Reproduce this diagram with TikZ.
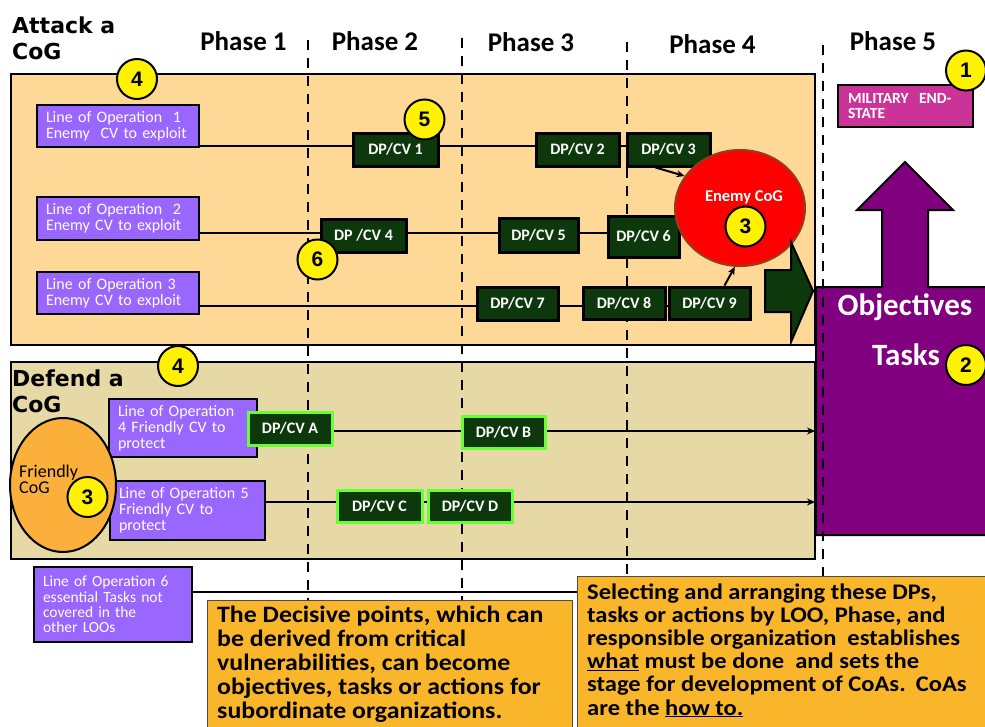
\documentclass[tikz,border=0pt]{standalone}
\usepackage{fontspec}
\setmainfont{Carlito}
\newfontfamily\widefont{Carlito}[FakeStretch=1.1]
\newfontfamily\dvs{DejaVu Sans}
\newfontfamily\libs{Liberation Sans}
\usetikzlibrary{shapes.geometric,arrows.meta}

\pgfdeclarelayer{back}
\pgfdeclarelayer{lines}
\pgfdeclarelayer{front}
\pgfsetlayers{back,lines,main,front}

\newcommand\fsz[2]{\fontsize{#1}{#2}\selectfont}

\definecolor{attackfill}{RGB}{253,216,150}
\definecolor{defendfill}{RGB}{231,217,165}
\definecolor{loofill}{RGB}{153,102,255}
\definecolor{dpfill}{RGB}{12,56,12}
\definecolor{dpedge}{RGB}{102,255,51}
\definecolor{objfill}{RGB}{128,0,128}
\definecolor{endfill}{RGB}{204,51,153}
\definecolor{notefill}{RGB}{250,182,42}
\definecolor{friendfill}{RGB}{251,176,59}
\definecolor{cogedge}{RGB}{150,60,30}

\tikzset{
  panel/.style={draw=black, line width=2pt},
  loo/.style={draw=black, line width=2pt, fill=loofill, text=white,
    font=\fsz{16}{16}, align=left, inner xsep=9pt, inner ysep=0pt},
  dp/.style={draw=black, line width=3pt, fill=dpfill, text=white,
    font=\bfseries\fsz{16}{16}, inner sep=0pt},
  dpf/.style={dp, draw=dpedge},
  badge/.style={circle, draw=black, line width=2pt, fill=yellow,
    minimum size=40pt, inner sep=0pt, font=\libs\bfseries\fsz{21}{21}},
  phase/.style={anchor=base, inner sep=0pt, font=\bfseries\fsz{27}{27}},
  title/.style={anchor=north west, align=left, inner sep=0pt,
    font=\dvs\bfseries\fsz{22}{26}},
  notebox/.style={anchor=north west, draw=black!70, line width=1pt,
    fill=notefill, inner sep=0pt},
  notetext/.style={anchor=base west, align=left, inner sep=0pt},
  link/.style={line width=2pt},
  arr/.style={link, -{Stealth[length=8pt,width=7pt]}},
  phaseline/.style={line width=2.5pt, dash pattern=on 10pt off 8pt},
}

\begin{document}
\begin{tikzpicture}[x=1pt,y=-1pt]
\useasboundingbox (0,0) rectangle (985,726);

% ---- panels and the objectives block ----
\begin{pgfonlayer}{back}
  \draw[panel, fill=attackfill] (11,74) rectangle (815,345);
  \draw[panel, fill=defendfill] (11,362) rectangle (815,559);
  \draw[panel, fill=objfill] (816,287) -- (882,287) -- (882,210) -- (857,210)
    -- (905,162) -- (953,210) -- (928,210) -- (928,287) -- (995,287)
    -- (995,535) -- (816,535) -- cycle;
\end{pgfonlayer}

% ---- headings ----
\node[title] (attack) at (12,17) {Attack a\\CoG};
\node[title] (defend) at (12,370) {Defend a\\CoG};
\node[phase] (ph1) at (243.5,50) {Phase 1};
\node[phase] (ph2) at (375,50) {Phase 2};
\node[phase] (ph3) at (531,51) {Phase 3};
\node[phase] (ph4) at (712.5,53) {Phase 4};
\node[phase] (ph5) at (893,50) {Phase 5};

% ---- phase boundaries ----
\begin{pgfonlayer}{lines}
  \draw[phaseline] (308,40) -- (308,726);
  \draw[phaseline] (462,38) -- (462,726);
  \draw[phaseline] (627,42) -- (627,726);
  \draw[phaseline] (823,45) -- (823,726);
\end{pgfonlayer}

% ---- lines of operation ----
\node[loo, text width=144pt, minimum height=42pt] (loo1) at (118,126)
  {Line of Operation\ \ 1\\Enemy\ \ CV to exploit};
\node[loo, text width=144pt, minimum height=43pt] (loo2) at (118,218.5)
  {Line of Operation\ \ 2\\Enemy CV to exploit};
\node[loo, text width=144pt, minimum height=42pt] (loo3) at (118,293)
  {Line of Operation 3\\Enemy CV to exploit};
\node[loo, text width=130pt, minimum height=58pt] (loo4) at (183,428)
  {Line of Operation\\4 Friendly CV to\\protect};
\node[loo, text width=137pt, minimum height=59pt] (loo5) at (187.5,510.5)
  {Line of Operation 5\\Friendly CV to\\protect};
\node[loo, text width=140pt, minimum height=75pt, font=\fsz{15.5}{15.3}] (loo6) at (113,604.5)
  {Line of Operation 6\\essential Tasks not\\covered in the\\other LOOs};

% ---- decisive points ----
\node[dp, minimum width=85pt, minimum height=33pt] (dp1) at (395.5,149.5) {DP/CV 1};
\node[dp, minimum width=83pt, minimum height=33pt] (dp2) at (577.5,149.5) {DP/CV 2};
\node[dp, minimum width=83pt, minimum height=33pt] (dp3) at (668.5,149.5) {DP/CV 3};
\node[dp, minimum width=85pt, minimum height=33pt] (dp4) at (363.5,235.5) {DP /CV 4};
\node[dp, minimum width=79pt, minimum height=34pt] (dp5) at (538.5,235) {DP/CV 5};
\node[dp, minimum width=71pt, minimum height=41pt] (dp6) at (643.5,236.5) {DP/CV 6};
\node[dp, minimum width=81pt, minimum height=33pt] (dp7) at (517.5,303.5) {DP/CV 7};
\node[dp, minimum width=82pt, minimum height=32pt] (dp8) at (624,303) {DP/CV 8};
\node[dp, minimum width=81pt, minimum height=32pt] (dp9) at (709.5,303) {DP/CV 9};
\node[dpf, minimum width=84pt, minimum height=33pt] (dpa) at (290,428.5) {DP/CV A};
\node[dpf, minimum width=83pt, minimum height=32pt] (dpb) at (503.5,432) {DP/CV B};
\node[dpf, minimum width=85pt, minimum height=32pt] (dpc) at (379.5,506) {DP/CV C};
\node[dpf, minimum width=84pt, minimum height=32pt] (dpd) at (470,506) {DP/CV D};

% ---- centres of gravity ----
\node[ellipse, fill=red, draw=cogedge, line width=2pt, minimum width=130pt,
  minimum height=116pt] (enemy) at (740,208) {};
\node[text=white, font=\bfseries\fsz{16.5}{16}, inner sep=0pt] (enemytxt) at (744,197) {Enemy CoG};
\node[ellipse, fill=friendfill, draw=black, line width=2pt, minimum width=106pt,
  minimum height=134pt] (friend) at (63,485) {};
\node[anchor=base west, align=left, inner sep=0pt, font=\fsz{18}{16}] (friendtxt)
  at (19,493) {Friendly\\CoG};

% ---- thrust into the objectives ----
\draw[line width=2pt, fill=dpfill] (765,270) -- (791,270) -- (791,242) -- (813,291)
  -- (791,342) -- (791,312) -- (765,312) -- cycle;

% ---- end state and objectives ----
\node[draw=black, line width=2pt, fill=endfill, text=white,
  font=\bfseries\fsz{15.5}{15}, align=left, text width=115pt, inner xsep=10pt,
  inner ysep=0pt, minimum height=42pt] (endstate) at (905.5,106) {MILITARY\ \ END-\\STATE};
\node[anchor=base, text=white, font=\bfseries\fsz{31}{31}, inner sep=0pt] (objtxt)
  at (905,315) {Objectives};
\node[anchor=base, text=white, font=\bfseries\fsz{31}{31}, inner sep=0pt] (tasktxt)
  at (906,365) {Tasks};

% ---- numbered markers ----
\node[badge] (b1) at (966,70.5) {1};
\node[badge] (b2) at (966,365) {2};
\node[badge] (b3e) at (745.5,226.5) {3};
\node[badge] (b3f) at (87.5,497) {3};
\node[badge] (b4a) at (137,79) {4};
\node[badge] (b4d) at (178,366) {4};
\node[badge] (b5) at (424.5,119.5) {5};
\node[badge] (b6) at (317.5,259.5) {6};

% ---- explanatory notes (base anchor sits on the last line) ----
\begin{pgfonlayer}{front}
  \node[notebox, minimum width=365pt, minimum height=140pt] (note1) at (207,600) {};
  \node[notetext, font=\widefont\bfseries\fsz{23.5}{24}] (note1txt) at (217,718)
    {The Decisive points, which can\\be derived from critical\\vulnerabilities, can become\\objectives, tasks or actions for\\subordinate organizations.};
  \node[notebox, minimum width=418pt, minimum height=164pt] (note2) at (577,576) {};
  \node[notetext, font=\widefont\bfseries\fsz{22.3}{23.2}] (note2txt) at (587,715)
    {Selecting and arranging these DPs,\\tasks or actions by LOO, Phase, and\\responsible organization\ \ establishes\\\underline{what} must be done\ \ and sets the\\stage for development of CoAs.\hspace{0.45em}CoAs\\are the \underline{how to.}};
\end{pgfonlayer}

% ---- connectors ----
\coordinate (r1) at (0,146);
\coordinate (r2) at (0,233);
\coordinate (r3) at (0,306);
\coordinate (r4) at (0,431);
\coordinate (r5) at (0,502);
\coordinate (r6) at (0,592);
\coordinate (objedge) at (815,0);
\begin{pgfonlayer}{lines}
  \draw[link] (loo1.east |- r1) -- (dp3.west |- r1);
  \draw[link] (loo2.east |- r2) -- (dp6.west |- r2);
  \draw[link] (loo3.east |- r3) -- (dp9.west |- r3);
  \draw[arr] (dpa.east |- r4) -- (objedge |- r4);
  \draw[arr] (loo5.east |- r5) -- (objedge |- r5);
  \draw[link] (loo6.east |- r6) -- (note2.west |- r6);
  \draw[arr] ([xshift=-13pt]dp3.south) -- (enemy.150);
  \draw[arr] ([xshift=15pt]dp9.north) -- (enemy.-95);
\end{pgfonlayer}
\end{tikzpicture}
\end{document}
